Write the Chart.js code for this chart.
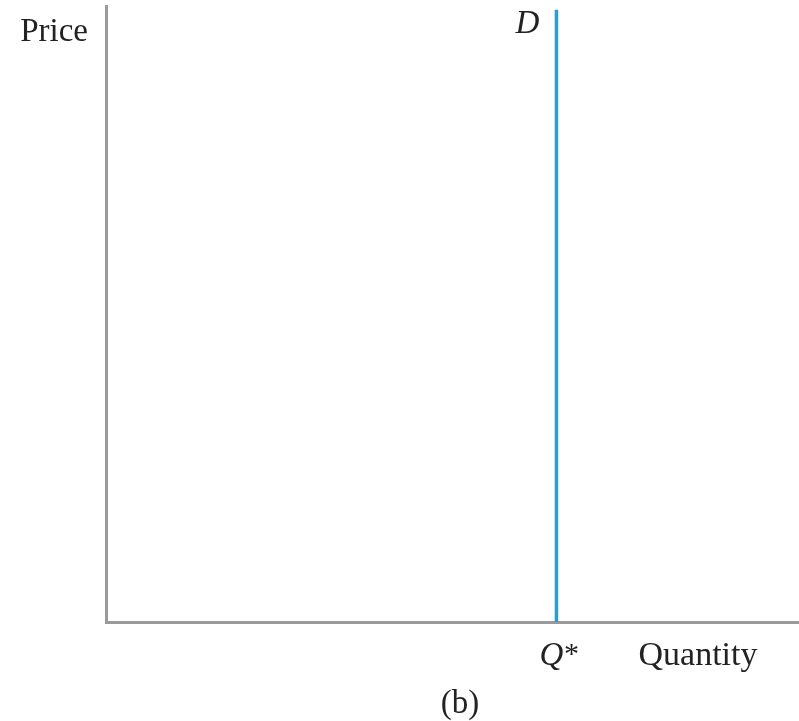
<!DOCTYPE html>
<html>
<head>
<meta charset="utf-8">
<script src="https://cdn.jsdelivr.net/npm/chart.js@4/dist/chart.umd.min.js"></script>
<style>
  html, body { margin: 0; padding: 0; background: #fff; }
  #wrap { width: 799px; height: 721px; }
</style>
</head>
<body>
<div id="wrap"><canvas id="chartdemand"></canvas></div>
<script>
// perfectly inelastic demand, panel (b)
var qStar = 65
var demandQ = [qStar, qStar]
var demandP = [0, 99.4]
var curveLabel = 'D'
var qLabel = 'Q*'
var xTitle = 'Quantity'
var yTitle = 'Price'
var panelLabel = '(b)'

const serif = '"Liberation Serif", "DejaVu Serif", serif'

const labelPlugin = {
    id: 'labels',
    afterDraw: function(chart){
        const ctx = chart.ctx
        const xs = chart.scales.x
        const ys = chart.scales.y
        const area = chart.chartArea
        const qx = xs.getPixelForValue(qStar)
        ctx.save()
        ctx.fillStyle = '#222'
        ctx.textBaseline = 'alphabetic'
        // y title
        ctx.font = '33px ' + serif
        ctx.textAlign = 'right'
        ctx.fillText(yTitle, area.left - 18, 41)
        // curve label
        ctx.font = 'italic 33px ' + serif
        ctx.textAlign = 'center'
        ctx.fillText(curveLabel, xs.getPixelForValue(demandQ[1]) - 29, ys.getPixelForValue(demandP[1]) + 23)
        // Q* under axis
        ctx.fillText(qLabel.replace('*',''), qx - 5, area.bottom + 43)
        ctx.font = '30px ' + serif
        ctx.fillText('*', qx + 15, area.bottom + 41)
        // x title
        ctx.font = '34px ' + serif
        ctx.fillText(xTitle, 698, area.bottom + 43)
        // panel label
        ctx.font = '33px ' + serif
        ctx.fillText(panelLabel, 460, area.bottom + 91)
        ctx.restore()
    }
}

const dt = {
    datasets: [{
        label: curveLabel,
        data: demandQ.map(function(q, i){ return {x: q, y: demandP[i]} }),
        borderColor: '#1ea2df',
        borderWidth: 3.5,
        pointRadius: 0,
        showLine: true,
        fill: false
    }]
}

const config_chartdemand = {
    type: 'scatter',
    data: dt,
    options: {
        responsive: true,
        maintainAspectRatio: false,
        animation: false,
        layout: { padding: { left: 98, right: 0, top: 6, bottom: 91 } },
        plugins: { legend: { display: false }, tooltip: { enabled: false } },
        scales: {
            x: {
                type: 'linear', min: 0, max: 100,
                grid: { display: false },
                ticks: { display: false },
                border: { display: true, color: '#9a9a9a', width: 3 }
            },
            y: {
                type: 'linear', min: 0, max: 100,
                grid: { display: false },
                ticks: { display: false },
                border: { display: true, color: '#9a9a9a', width: 3 }
            }
        }
    },
    plugins: [labelPlugin]
}

const chartdemand = new Chart(
    document.getElementById('chartdemand'),
    config_chartdemand
)
</script>
</body>
</html>
